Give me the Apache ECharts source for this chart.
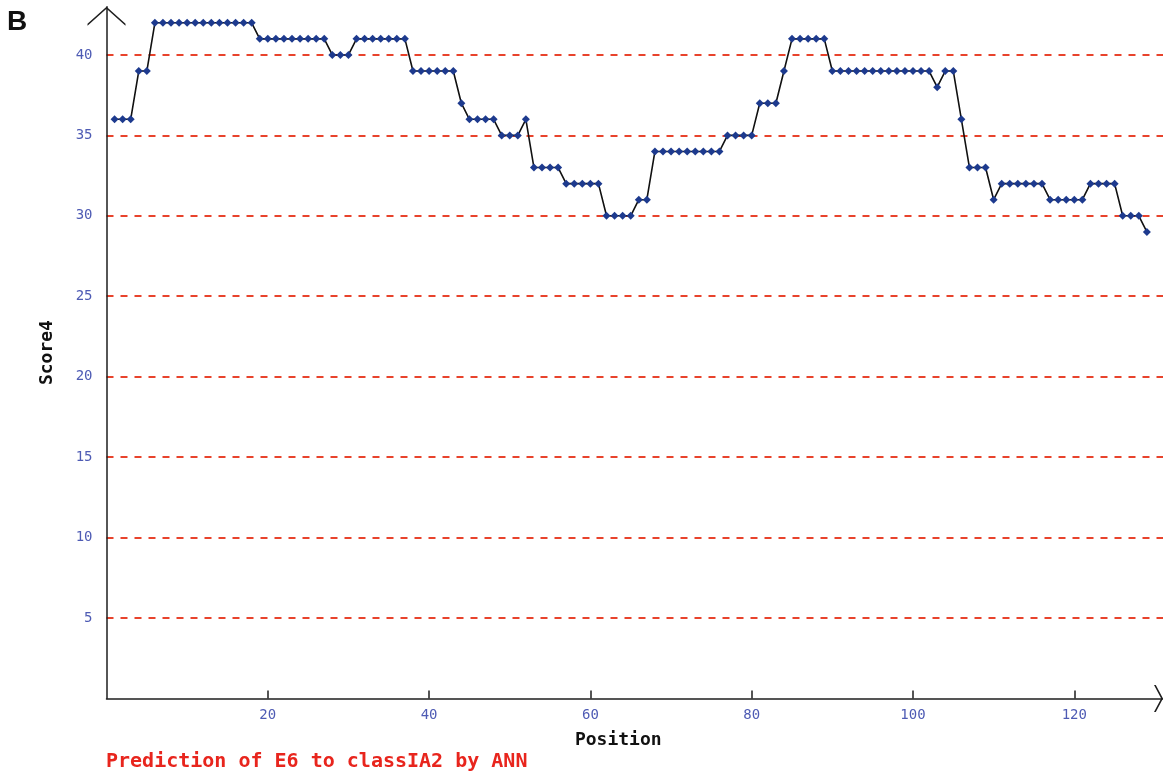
<!DOCTYPE html>
<html>
<head>
<meta charset="utf-8">
<script src="https://cdn.jsdelivr.net/npm/echarts@6/dist/echarts.min.js"></script>
<style>
  html, body { margin: 0; padding: 0; background: #ffffff; }
  #chart { width: 1163px; height: 772px; }
</style>
</head>
<body>
<div id="chart"></div>
<script>
// Score4 of each peptide position (E6 to class IA2, ANN prediction)
const scores = [
  36, 36, 36, 39, 39, 42, 42, 42, 42, 42,
  42, 42, 42, 42, 42, 42, 42, 42, 41, 41,
  41, 41, 41, 41, 41, 41, 41, 40, 40, 40,
  41, 41, 41, 41, 41, 41, 41, 39, 39, 39,
  39, 39, 39, 37, 36, 36, 36, 36, 35, 35,
  35, 36, 33, 33, 33, 33, 32, 32, 32, 32,
  32, 30, 30, 30, 30, 31, 31, 34, 34, 34,
  34, 34, 34, 34, 34, 34, 35, 35, 35, 35,
  37, 37, 37, 39, 41, 41, 41, 41, 41, 39,
  39, 39, 39, 39, 39, 39, 39, 39, 39, 39,
  39, 39, 38, 39, 39, 36, 33, 33, 33, 31,
  32, 32, 32, 32, 32, 32, 31, 31, 31, 31,
  31, 32, 32, 32, 32, 30, 30, 30, 29
];
const xTickLabels = [20, 40, 60, 80, 100, 120];
const yTickLabels = [5, 10, 15, 20, 25, 30, 35, 40];
const xAxisTitle = 'Position';
const yAxisTitle = 'Score4';
const caption = 'Prediction of E6 to classIA2 by ANN';
const panelLetter = 'B';

// position n is the n-th residue (1-based)
const points = scores.map((s, i) => [i + 1, s]);

const MONO = '"DejaVu Sans Mono", "Liberation Mono", monospace';
const LABEL_BLUE = '#4e5bb4';
const AXIS = '#1e1e1e';

// open chevron arrow heads for the axis ends (tip at top of the path box)
const arrowUp = 'path://M0,17 L19,0 L38,17 L38,19 L19,2 L0,19 Z';
const arrowRight = 'path://M0,7.2 L13.5,0 L27,7.2 L27,9 L13.5,1.8 L0,9 Z';

const chart = echarts.init(document.getElementById('chart'), null, { renderer: 'canvas' });

chart.setOption({
  animation: false,
  backgroundColor: '#ffffff',
  title: [
    {
      text: panelLetter, left: 7, top: 8, padding: 0,
      textStyle: { fontFamily: '"Liberation Sans", Arial, sans-serif', fontWeight: 'bold', fontSize: 28, color: '#111' }
    },
    {
      text: caption, left: 106, top: 752, padding: 0,
      textStyle: { fontFamily: MONO, fontWeight: 'bold', fontSize: 20, color: '#e8251d' }
    }
  ],
  grid: { left: 106.5, right: 0, top: 6.7, bottom: 73.6, containLabel: false },
  xAxis: {
    type: 'value',
    min: 0, max: 131, interval: 20,
    name: xAxisTitle,
    nameLocation: 'middle',
    nameGap: 33,
    nameTextStyle: { fontFamily: MONO, fontWeight: 'bold', fontSize: 18, color: '#111', padding: [0, 33, 0, 0] },
    axisLine: {
      show: true, onZero: false,
      lineStyle: { color: AXIS, width: 1.5 },
      symbol: ['none', arrowRight], symbolSize: [27, 9], symbolOffset: [0, -4.5]
    },
    axisTick: { show: true, inside: true, length: 8, lineStyle: { color: AXIS, width: 1.5 }, customValues: xTickLabels },
    axisLabel: { show: true, margin: 10, color: LABEL_BLUE, fontFamily: MONO, fontSize: 14, customValues: xTickLabels },
    splitLine: { show: false }
  },
  yAxis: {
    type: 'value',
    min: 0, max: 43, interval: 5,
    name: yAxisTitle,
    nameLocation: 'middle',
    nameGap: 50,
    nameTextStyle: { fontFamily: MONO, fontWeight: 'bold', fontSize: 18, color: '#111' },
    axisLine: {
      show: true, onZero: false,
      lineStyle: { color: AXIS, width: 1.5 },
      symbol: ['none', arrowUp], symbolSize: [38, 19], symbolOffset: [0, -9.5]
    },
    axisTick: { show: false },
    axisLabel: { show: true, margin: 14, color: LABEL_BLUE, fontFamily: MONO, fontSize: 14, customValues: yTickLabels },
    splitLine: {
      show: true, showMinLine: false, showMaxLine: false,
      lineStyle: { color: '#e8432c', width: 2, type: [7, 7] }
    }
  },
  series: [{
    type: 'line',
    data: points,
    symbol: 'diamond',
    symbolSize: 8,
    showAllSymbol: true,
    itemStyle: { color: '#1d3a8e' },
    lineStyle: { color: '#111111', width: 1.6 },
    z: 3
  }]
});
</script>
</body>
</html>
